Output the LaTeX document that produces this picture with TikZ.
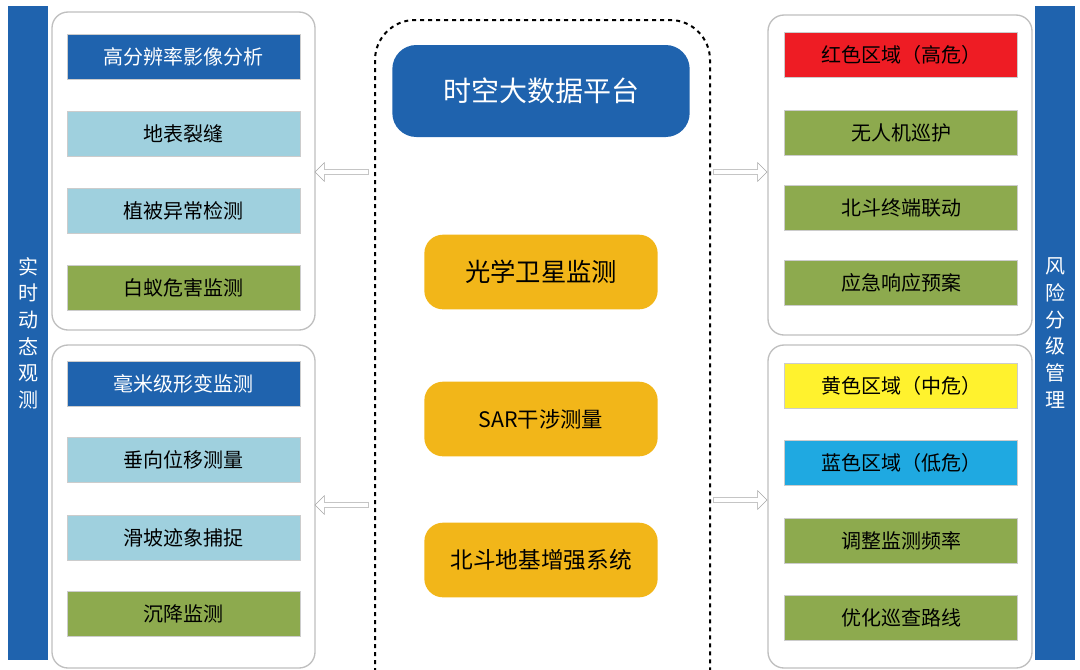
\documentclass[tikz,border=0pt]{standalone}
\usepackage{fontspec}
\setmainfont{Noto Sans CJK SC}
\usetikzlibrary{shapes.arrows}
\definecolor{dblue}{HTML}{1F63AE}
\definecolor{lblue}{HTML}{9FD0DE}
\definecolor{olive}{HTML}{8DAA4E}
\definecolor{orng}{HTML}{F2B619}
\definecolor{rred}{HTML}{EE1C24}
\definecolor{yel}{HTML}{FFF22E}
\definecolor{cyanb}{HTML}{1FA9E1}
\begin{document}
\begin{tikzpicture}[x=0.75pt,y=-0.75pt,
 panel/.style={draw=gray!50,line width=1pt,rounded corners=12pt,fill=white},
 bx/.style={minimum width=174.75pt,minimum height=34pt,inner sep=0pt,font=\fontsize{15}{17}\selectfont,draw=gray!40},
 bar/.style={fill=dblue,minimum width=30pt,minimum height=491pt,inner sep=0pt,text=white,font=\fontsize{15}{20}\selectfont,align=center},
 hollow/.style={single arrow,draw=gray!70,fill=white,minimum width=14pt,single arrow head extend=3pt,minimum height=40pt,inner sep=1pt}]
\useasboundingbox (0,0) rectangle (1080,669);
\node[bar] (lbar) at (28,333) {实\\时\\动\\态\\观\\测};
\node[bar] (rbar) at (1055,333) {风\\险\\分\\级\\管\\理};
\draw[panel] (52,12) rectangle (315,330);
\draw[panel] (52,345) rectangle (315,668);
\draw[panel] (768,15) rectangle (1032,335);
\draw[panel] (768,345) rectangle (1032,668);
\draw[dashed,line width=1.5pt,rounded corners=30pt] (375,680) -- (375,20) -- (710,20) -- (710,680);
% left
\node[bx,fill=dblue,text=white] (l1) at (183.5,57) {高分辨率影像分析};
\node[bx,fill=lblue] (l2) at (183.5,134) {地表裂缝};
\node[bx,fill=lblue] (l3) at (183.5,211) {植被异常检测};
\node[bx,fill=olive] (l4) at (183.5,288) {白蚁危害监测};
\node[bx,fill=dblue,text=white] (l5) at (183.5,384) {毫米级形变监测};
\node[bx,fill=lblue] (l6) at (183.5,460) {垂向位移测量};
\node[bx,fill=lblue] (l7) at (183.5,538) {滑坡迹象捕捉};
\node[bx,fill=olive] (l8) at (183.5,614) {沉降监测};
% right
\node[bx,fill=rred] (r1) at (901,55) {红色区域（高危）};
\node[bx,fill=olive] (r2) at (901,133) {无人机巡护};
\node[bx,fill=olive] (r3) at (901,208) {北斗终端联动};
\node[bx,fill=olive] (r4) at (901,283) {应急响应预案};
\node[bx,fill=yel] (r5) at (901,386) {黄色区域（中危）};
\node[bx,fill=cyanb] (r6) at (901,463) {蓝色区域（低危）};
\node[bx,fill=olive] (r7) at (901,541) {调整监测频率};
\node[bx,fill=olive] (r8) at (901,618) {优化巡查路线};
% center
\node[fill=dblue,text=white,rounded corners=18pt,minimum width=223pt,minimum height=69pt,font=\fontsize{21}{24}\selectfont] (c0) at (541,91) {时空大数据平台};
\node[fill=orng,rounded corners=14pt,minimum width=175pt,minimum height=56pt,font=\fontsize{19}{22}\selectfont] (c1) at (541,272) {光学卫星监测};
\node[fill=orng,rounded corners=14pt,minimum width=175pt,minimum height=56pt,font=\fontsize{16}{20}\selectfont] (c2) at (541,419) {SAR干涉测量};
\node[fill=orng,rounded corners=14pt,minimum width=175pt,minimum height=56pt,font=\fontsize{17}{20}\selectfont] (c3) at (541,560) {北斗地基增强系统};
% arrows
\node[hollow,shape border rotate=180] (a1) at (343,172) {};
\node[hollow,shape border rotate=180] (a2) at (343,505) {};
\node[hollow] (a3) at (739,172) {};
\node[hollow] (a4) at (739,500) {};
\end{tikzpicture}
\end{document}
